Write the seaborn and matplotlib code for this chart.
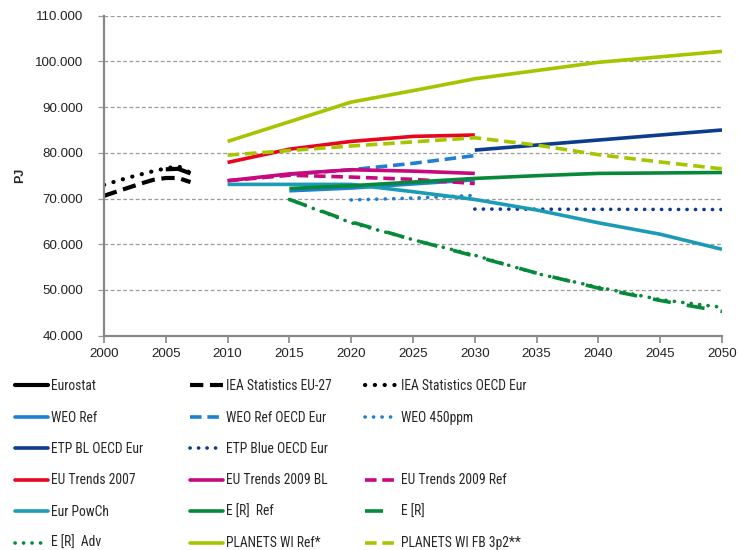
import matplotlib
matplotlib.use("Agg")
import matplotlib.pyplot as plt
from matplotlib import font_manager
from matplotlib.lines import Line2D
from matplotlib.ticker import FuncFormatter, MultipleLocator
import seaborn as sns
import pandas as pd

# --- data (PJ) ---
YEARS_HIST = [2000, 2001, 2002, 2003, 2004, 2005, 2006, 2007]
YEARS_10_50 = [2010, 2015, 2020, 2025, 2030, 2035, 2040, 2045, 2050]
YEARS_10_30 = [2010, 2015, 2020, 2025, 2030]
YEARS_15_50 = [2015, 2020, 2025, 2030, 2035, 2040, 2045, 2050]

EUROSTAT_YEARS = [2005, 2006, 2007]
EUROSTAT = [76400, 76500, 75500]
IEA_EU27 = [70600, 71500, 72400, 73300, 74100, 74500, 74500, 73600]
IEA_OECD = [73000, 73800, 74600, 75300, 76000, 76600, 77100, 75600]

WEO_REF_YEARS = [2015, 2020, 2025, 2030]
WEO_REF = [71700, 72300, 73200, 74100]
WEO_REF_OECD_YEARS = [2015, 2020, 2025, 2030]
WEO_REF_OECD = [75300, 76300, 77700, 79400]
WEO_450_YEARS = [2020, 2025, 2030]
WEO_450 = [69700, 70100, 70700]

ETP_YEARS = [2030, 2040, 2050]
ETP_BL = [80600, 82800, 85000]
ETP_BLUE = [67700, 67650, 67600]

EU_TRENDS_2007 = [77900, 80800, 82500, 83600, 83900]
EU_TRENDS_2009_BL = [73900, 75400, 76300, 76000, 75500]
EU_TRENDS_2009_REF = [73900, 75100, 74700, 74200, 73300]

EUR_POWCH = [73100, 73100, 73100, 71500, 69800, 67500, 64700, 62200, 58900]
ER_REF = [72200, 72800, 73600, 74400, 75000, 75500, 75600, 75700]
ER = [69800, 64900, 61000, 57400, 53700, 50400, 47700, 45300]
ER_ADV = [69800, 64700, 61000, 57600, 53600, 50600, 47900, 46200]

PLANETS_REF = [82500, 86800, 91100, 93600, 96200, 98000, 99800, 101000, 102200]
PLANETS_FB = [79500, 80500, 81500, 82400, 83300, 81700, 79600, 78000, 76500]

BLACK = "#000000"
BLUE = "#1F80D0"
DARKBLUE = "#0B3C8F"
RED = "#E8051F"
MAGENTA = "#C8097E"
TEAL = "#1B9BB5"
GREEN = "#07893A"
LIME = "#A6C500"

SOLID = "-"
DASH = (0, (3.2, 1.6))
DOT = (0, (0.05, 2.3))
LONGDASH = (0, (5, 4.5))

# label, years, values, color, linestyle, width
series = [
    ("Eurostat", EUROSTAT_YEARS, EUROSTAT, BLACK, SOLID, 3.0),
    ("IEA Statistics EU-27", YEARS_HIST, IEA_EU27, BLACK, DASH, 3.0),
    ("IEA Statistics OECD Eur", YEARS_HIST, IEA_OECD, BLACK, DOT, 3.0),
    ("WEO Ref", WEO_REF_YEARS, WEO_REF, BLUE, SOLID, 2.6),
    ("WEO Ref OECD Eur", WEO_REF_OECD_YEARS, WEO_REF_OECD, BLUE, DASH, 2.6),
    ("WEO 450ppm", WEO_450_YEARS, WEO_450, BLUE, DOT, 2.6),
    ("ETP BL OECD Eur", ETP_YEARS, ETP_BL, DARKBLUE, SOLID, 2.6),
    ("ETP Blue OECD Eur", ETP_YEARS, ETP_BLUE, DARKBLUE, DOT, 2.6),
    ("EU Trends 2007", YEARS_10_30, EU_TRENDS_2007, RED, SOLID, 2.6),
    ("EU Trends 2009 BL", YEARS_10_30, EU_TRENDS_2009_BL, MAGENTA, SOLID, 2.6),
    ("EU Trends 2009 Ref", YEARS_10_30, EU_TRENDS_2009_REF, MAGENTA, DASH, 2.6),
    ("Eur PowCh", YEARS_10_50, EUR_POWCH, TEAL, SOLID, 2.6),
    ("E [R]  Ref", YEARS_15_50, ER_REF, GREEN, SOLID, 2.6),
    ("E [R]", YEARS_15_50, ER, GREEN, LONGDASH, 2.6),
    ("E [R]  Adv", YEARS_15_50, ER_ADV, GREEN, DOT, 2.6),
    ("PLANETS WI Ref*", YEARS_10_50, PLANETS_REF, LIME, SOLID, 2.6),
    ("PLANETS WI FB 3p2**", YEARS_10_50, PLANETS_FB, LIME, DASH, 2.6),
]

sns.set_theme(style="white")
plt.rcParams["font.family"] = ["Liberation Sans", "DejaVu Sans"]

# the legend uses a narrow face; pick one that is installed
installed = {f.name for f in font_manager.fontManager.ttflist}
legend_font, legend_size = "Liberation Sans", 8.2
for name in ["Liberation Sans Narrow", "Roboto Condensed", "Open Sans Condensed"]:
    if name in installed:
        legend_font, legend_size = name, 9.8
        break

fig = plt.figure(figsize=(7.38, 5.5), dpi=100)
ax = fig.add_axes([104 / 738, 1 - 335.7 / 550, (722 - 104) / 738, 320 / 550])

handles = {}
for label, yrs, vals, color, ls, lw in series:
    df = pd.DataFrame({"year": yrs, "pj": vals})
    cap = "round" if ls == DOT else "butt"
    sns.lineplot(data=df, x="year", y="pj", ax=ax, color=color, linestyle=ls,
                 linewidth=lw, dash_capstyle=cap, solid_capstyle="butt")
    handles[label] = Line2D([], [], color=color, linestyle=ls, linewidth=lw,
                            dash_capstyle=cap)

ax.set_xlim(2000, 2050)
ax.set_ylim(40000, 110000)
ax.xaxis.set_major_locator(MultipleLocator(5))
ax.yaxis.set_major_locator(MultipleLocator(10000))
ax.yaxis.set_major_formatter(FuncFormatter(lambda v, p: f"{v:,.0f}".replace(",", ".")))
ax.set_xlabel("")
ax.set_ylabel("PJ", fontsize=9, fontweight="bold")
ax.yaxis.set_label_coords(-(104 - 26) / 618, 0.5)
ax.yaxis.grid(True, color="#9A9A9A", linestyle=(0, (3, 2)), linewidth=0.9)
ax.set_axisbelow(True)
for side in ["top", "right"]:
    ax.spines[side].set_visible(False)
for side in ["left", "bottom"]:
    ax.spines[side].set_color("#888888")
    ax.spines[side].set_linewidth(1.6)
ax.tick_params(axis="both", labelsize=9.6, colors="#222222")
ax.tick_params(axis="x", direction="out", length=5, width=1.2, color="#888888",
               bottom=True, pad=4)
ax.tick_params(axis="y", direction="out", length=4, width=0.9, color="#9A9A9A",
               left=True, pad=11)

# legend in three fixed columns, row-major as in the original
blank = Line2D([], [], color="none")
columns = [
    ["Eurostat", "WEO Ref", "ETP BL OECD Eur", "EU Trends 2007", "Eur PowCh", "E [R]  Adv"],
    ["IEA Statistics EU-27", "WEO Ref OECD Eur", "ETP Blue OECD Eur", "EU Trends 2009 BL",
     "E [R]  Ref", "PLANETS WI Ref*"],
    ["IEA Statistics OECD Eur", "WEO 450ppm", None, "EU Trends 2009 Ref", "E [R]",
     "PLANETS WI FB 3p2**"],
]
col_x = [3, 178, 353]
fs_px = legend_size * 100 / 72
for cx, labels in zip(col_x, columns):
    hs = [handles[l] if l else blank for l in labels]
    ls_ = [l if l else " " for l in labels]
    fig.legend(hs, ls_, loc="upper left", bbox_to_anchor=(cx / 738, 1 - 367 / 550),
               frameon=False, handlelength=33 / fs_px, handletextpad=0.2,
               labelspacing=(31 - fs_px) / fs_px,
               prop={"family": [legend_font, "DejaVu Sans"], "size": legend_size})

fig.savefig("out.png", dpi=100)
